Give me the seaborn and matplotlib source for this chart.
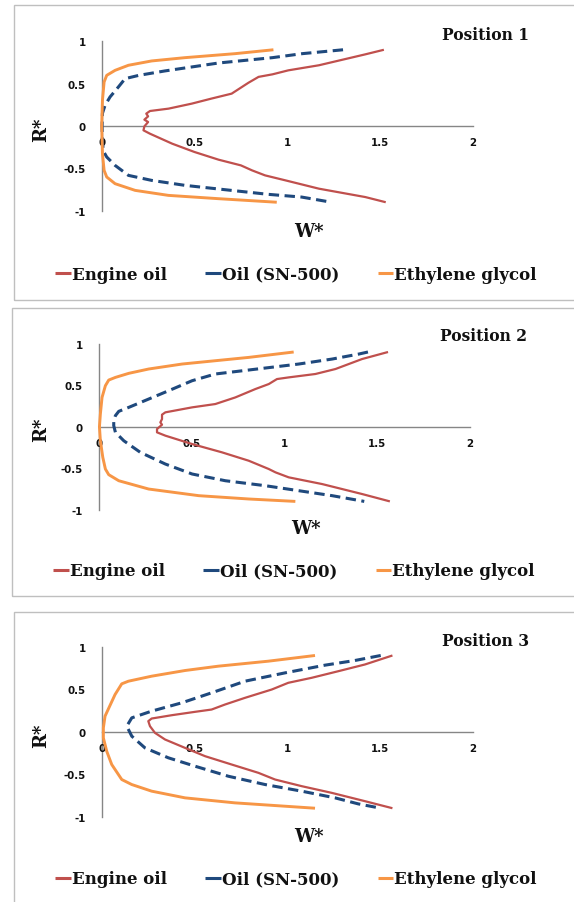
import matplotlib
matplotlib.use("Agg")
import matplotlib.pyplot as plt
import seaborn as sns
import pandas as pd
from matplotlib.lines import Line2D
from matplotlib.patches import Rectangle

# ---------------- data: W* (velocity) against R* (radius) ----------------
series_names = ["Engine oil", "Oil (SN-500)", "Ethylene glycol"]
panel_titles = ["Position 1", "Position 2", "Position 3"]
x_tick_values = [0, 0.5, 1, 1.5, 2]
x_tick_labels = ["0", "0.5", "1", "1.5", "2"]
y_tick_values = [-1, -0.5, 0, 0.5, 1]
y_tick_labels = ["-1", "-0.5", "0", "0.5", "1"]

# Position 1
p1_engine_w = [1.52, 1.42, 1.17, 1.005, 0.92, 0.845, 0.79, 0.70, 0.59, 0.485, 0.36, 0.26,
               0.24, 0.25, 0.23, 0.25, 0.23, 0.225, 0.26, 0.38, 0.50, 0.63, 0.75, 0.81,
               0.88, 0.99, 1.17, 1.42, 1.53]
p1_engine_r = [0.90, 0.846, 0.717, 0.657, 0.61, 0.58, 0.51, 0.382, 0.323, 0.264, 0.205, 0.177,
               0.146, 0.114, 0.075, 0.047, -0.004, -0.051, -0.091, -0.209, -0.307, -0.398, -0.465, -0.524,
               -0.583, -0.642, -0.740, -0.839, -0.90]
p1_oil_w = [1.30, 1.08, 0.92, 0.63, 0.34, 0.20, 0.126, 0.09, 0.045, 0.018, 0.004, 0.002,
            0.004, 0.010, 0.027, 0.072, 0.144, 0.269, 0.449, 0.664, 0.898, 1.077, 1.237]
p1_oil_r = [0.90, 0.854, 0.807, 0.744, 0.65, 0.598, 0.559, 0.461, 0.343, 0.244, 0.15, 0.0,
            -0.2, -0.3, -0.366, -0.465, -0.583, -0.642, -0.701, -0.752, -0.807, -0.839, -0.90]
p1_glycol_w = [0.925, 0.718, 0.449, 0.269, 0.144, 0.072, 0.027, 0.013, 0.004, 0.0,
               0.004, 0.013, 0.027, 0.072, 0.18, 0.359, 0.628, 0.943]
p1_glycol_r = [0.90, 0.854, 0.807, 0.768, 0.717, 0.657, 0.598, 0.52, 0.303, 0.0,
               -0.327, -0.524, -0.602, -0.681, -0.76, -0.819, -0.858, -0.90]

# Position 2
p2_engine_w = [1.558, 1.418, 1.275, 1.167, 1.023, 0.96, 0.916, 0.844, 0.736, 0.628, 0.503, 0.359,
               0.341, 0.341, 0.332, 0.341, 0.314, 0.314, 0.359, 0.503, 0.664, 0.808, 0.916, 0.952,
               1.023, 1.203, 1.418, 1.568]
p2_engine_r = [0.90, 0.815, 0.695, 0.635, 0.594, 0.574, 0.514, 0.454, 0.353, 0.273, 0.233, 0.173,
               0.145, 0.092, 0.052, 0.024, -0.028, -0.068, -0.108, -0.209, -0.309, -0.41, -0.51, -0.55,
               -0.61, -0.691, -0.811, -0.90]
p2_oil_w = [1.45, 1.40, 1.257, 1.077, 0.808, 0.628, 0.503, 0.377, 0.269, 0.162, 0.108, 0.09,
            0.081, 0.081, 0.09, 0.135, 0.224, 0.359, 0.503, 0.682, 0.898, 1.077, 1.257, 1.43]
p2_oil_r = [0.90, 0.875, 0.815, 0.755, 0.683, 0.635, 0.554, 0.434, 0.333, 0.233, 0.185, 0.133,
            0.072, 0.012, -0.068, -0.169, -0.309, -0.45, -0.57, -0.651, -0.711, -0.771, -0.831, -0.90]
p2_glycol_w = [1.05, 0.808, 0.628, 0.449, 0.269, 0.162, 0.09, 0.054, 0.036, 0.018, 0.009, 0.004,
               0.009, 0.022, 0.036, 0.054, 0.108, 0.269, 0.539, 0.808, 1.059]
p2_glycol_r = [0.90, 0.835, 0.795, 0.755, 0.695, 0.643, 0.594, 0.562, 0.494, 0.353, 0.153, 0.0,
               -0.169, -0.369, -0.51, -0.578, -0.651, -0.751, -0.831, -0.871, -0.90]

# Position 3
p3_engine_w = [1.566, 1.418, 1.275, 1.131, 1.005, 0.916, 0.772, 0.664, 0.592, 0.503, 0.377, 0.269,
               0.251, 0.26, 0.287, 0.341, 0.449, 0.557, 0.70, 0.844, 0.934, 1.077, 1.239, 1.418, 1.566]
p3_engine_r = [0.90, 0.794, 0.715, 0.637, 0.578, 0.499, 0.401, 0.322, 0.263, 0.236, 0.196, 0.157,
               0.126, 0.067, -0.012, -0.09, -0.189, -0.287, -0.385, -0.483, -0.562, -0.64, -0.719, -0.817, -0.90]
p3_oil_w = [1.503, 1.364, 1.203, 0.987, 0.772, 0.592, 0.431, 0.269, 0.162, 0.135,
            0.162, 0.233, 0.359, 0.503, 0.682, 0.88, 1.077, 1.257, 1.382, 1.503]
p3_oil_r = [0.90, 0.841, 0.786, 0.695, 0.597, 0.46, 0.342, 0.244, 0.165, 0.067,
            -0.051, -0.189, -0.306, -0.405, -0.523, -0.621, -0.699, -0.778, -0.849, -0.90]
p3_glycol_w = [1.149, 0.898, 0.628, 0.449, 0.269, 0.144, 0.108, 0.072, 0.018, 0.009,
               0.009, 0.027, 0.054, 0.09, 0.108, 0.162, 0.269, 0.449, 0.718, 1.149]
p3_glycol_r = [0.90, 0.833, 0.774, 0.723, 0.656, 0.597, 0.566, 0.44, 0.185, 0.047,
               -0.071, -0.228, -0.385, -0.503, -0.562, -0.621, -0.699, -0.778, -0.837, -0.90]

panels = [
    [(p1_engine_w, p1_engine_r), (p1_oil_w, p1_oil_r), (p1_glycol_w, p1_glycol_r)],
    [(p2_engine_w, p2_engine_r), (p2_oil_w, p2_oil_r), (p2_glycol_w, p2_glycol_r)],
    [(p3_engine_w, p3_engine_r), (p3_oil_w, p3_oil_r), (p3_glycol_w, p3_glycol_r)],
]

# ---------------- styling ----------------
colors = ["#C0504D", "#1F497D", "#F79646"]
widths = [1.6, 2.2, 2.1]
styles = ["-", (0, (3.4, 1.8)), "-"]

sns.set_theme(style="white")
plt.rcParams["font.family"] = ["DejaVu Sans"]

W_PX, H_PX, DPI = 574, 903, 100
fig = plt.figure(figsize=(W_PX / DPI, H_PX / DPI), dpi=DPI)
fig.patch.set_facecolor("white")


def fx(px):
    return px / W_PX


def fy(py):
    return 1 - py / H_PX


# pixel layout of each panel: axes box, outer frame, text anchors
layout = [
    dict(ax=(101.7, 42.3, 473.0, 211.7), frame=(14, 6, 590, 301),
         title=(486, 35), rlab=(41, 130), wlab=(309, 232), leg=(296, 275)),
    dict(ax=(98.7, 344.7, 470.1, 510.7), frame=(11.5, 309, 590, 597),
         title=(483, 337), rlab=(41, 430), wlab=(306, 529), leg=(294, 572)),
    dict(ax=(101.7, 648.0, 473.0, 817.7), frame=(14, 613, 590, 915),
         title=(486, 641), rlab=(41, 736), wlab=(309, 837), leg=(296, 880)),
]

serif_bold = dict(family="DejaVu Serif", weight="bold")
axis_grey = "#868686"

for lay, data, title in zip(layout, panels, panel_titles):
    x0, y0, x1, y1 = lay["ax"]
    ax = fig.add_axes([fx(x0), fy(y1), fx(x1) - fx(x0), fy(y0) - fy(y1)])
    ax.set_facecolor("none")

    for (w, r), name, c, lw, ls in zip(data, series_names, colors, widths, styles):
        df = pd.DataFrame({"W": w, "R": r})
        sns.lineplot(data=df, x="W", y="R", sort=False, estimator=None, ax=ax,
                     color=c, linewidth=lw, linestyle=ls, clip_on=False,
                     solid_capstyle="butt", dash_capstyle="butt",
                     solid_joinstyle="round")

    ax.set_xlim(0, 2)
    ax.set_ylim(-1, 1)
    ax.set_xlabel("")
    ax.set_ylabel("")
    ax.set_xticks(x_tick_values, x_tick_labels)
    ax.set_yticks(y_tick_values, y_tick_labels)

    for side in ("top", "right"):
        ax.spines[side].set_visible(False)
    ax.spines["bottom"].set_position(("data", 0))
    for side in ("left", "bottom"):
        ax.spines[side].set_color(axis_grey)
        ax.spines[side].set_linewidth(1.0)
        ax.spines[side].set_zorder(0.5)

    ax.tick_params(axis="x", direction="out", length=4, width=1, color=axis_grey,
                   labelsize=7.4, pad=4, labelcolor="#111111")
    ax.tick_params(axis="y", direction="out", length=4, width=1, color=axis_grey,
                   labelsize=7.4, pad=7.5, labelcolor="#111111")
    for lbl in ax.get_xticklabels() + ax.get_yticklabels():
        lbl.set_fontweight("bold")

    # outer chart frame
    fx0, fy0, fx1, fy1 = lay["frame"]
    fig.add_artist(Rectangle((fx(fx0), fy(fy1)), fx(fx1) - fx(fx0), fy(fy0) - fy(fy1),
                             transform=fig.transFigure, fill=False,
                             edgecolor="#BFBFBF", linewidth=1.0))

    tx, ty = lay["title"]
    fig.text(fx(tx), fy(ty), title, ha="center", va="center", fontsize=11.2,
             color="#111111", **serif_bold)
    rx, ry = lay["rlab"]
    fig.text(fx(rx), fy(ry), "R*", ha="center", va="center", rotation=90,
             fontsize=13, color="#111111", **serif_bold)
    wx, wy = lay["wlab"]
    fig.text(fx(wx), fy(wy), "W*", ha="center", va="center", fontsize=13,
             color="#111111", **serif_bold)

    handles = [Line2D([], [], color=c, linewidth=2.2, solid_capstyle="butt") for c in colors]
    lx, ly = lay["leg"]
    fig.legend(handles, series_names, loc="center", bbox_to_anchor=(fx(lx), fy(ly)),
               ncol=3, frameon=False, handlelength=0.95, handletextpad=0.05,
               columnspacing=2.3, borderaxespad=0, borderpad=0,
               prop=dict(family="DejaVu Serif", weight="bold", size=12.0),
               labelcolor="#111111")

fig.savefig("out.png", dpi=DPI, facecolor="white")
